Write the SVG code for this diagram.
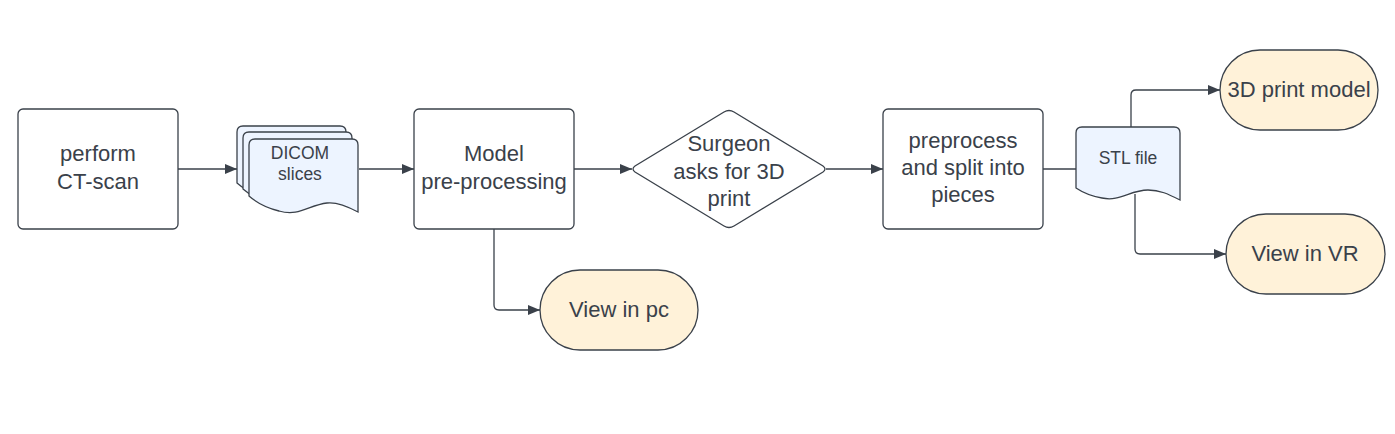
<svg xmlns="http://www.w3.org/2000/svg" width="1395" height="434" viewBox="0 0 1395 434">
<defs>
<style>
.box{fill:#ffffff;stroke:#3a414a;stroke-width:1.3}
.pill{fill:#fff2d9;stroke:#3a414a;stroke-width:1.3}
.doc{fill:#edf4ff;stroke:#3a414a;stroke-width:1.3}
.c{fill:none;stroke:#3a414a;stroke-width:1.3}
text{font-family:"Liberation Sans",Arial,sans-serif;fill:#3a414a;text-anchor:middle}
.t20{font-size:22px}
.t15{font-size:17.5px}
</style>
<marker id="ah" viewBox="0 0 12 10" refX="12" refY="5" markerWidth="12" markerHeight="10" markerUnits="userSpaceOnUse" orient="auto">
<path d="M0,0 L12,5 L0,10 Z" fill="#3a414a"/>
</marker>
<path id="docshape" d="M0,6 Q0,0 6,0 L103,0 Q109,0 109,6 L109,73 C96,66 86,63 78,64 C60,66 50,78 30,72 C18,69 8,64 0,57 Z"/>
</defs>
<rect width="1395" height="434" fill="#ffffff"/>
<g id="connectors">
<path class="c" d="M178,169 L237,169" marker-end="url(#ah)"/>
<path class="c" d="M359,169 L414,169" marker-end="url(#ah)"/>
<path class="c" d="M574,169 L632,169" marker-end="url(#ah)"/>
<path class="c" d="M826,169 L883,169" marker-end="url(#ah)"/>
<path class="c" d="M1043,169 L1076,169"/>
<path class="c" d="M494,229 L494,305 Q494,310 499,310 L540,310" marker-end="url(#ah)"/>
<path class="c" d="M1131,127 L1131,95 Q1131,90 1136,90 L1220,90" marker-end="url(#ah)"/>
<path class="c" d="M1135,194 L1135,249 Q1135,254 1140,254 L1226,254" marker-end="url(#ah)"/>
</g>
<g id="ctscan">
<rect class="box" x="18" y="109" width="160" height="120" rx="5"/>
<text class="t20" x="98" y="161">perform</text>
<text class="t20" x="98" y="189">CT-scan</text>
</g>
<g id="dicom">
<use href="#docshape" class="doc" x="237" y="126"/>
<use href="#docshape" class="doc" x="243" y="132"/>
<use href="#docshape" class="doc" x="249" y="139"/>
<text class="t15" x="300" y="159">DICOM</text>
<text class="t15" x="300" y="180">slices</text>
</g>
<g id="model">
<rect class="box" x="414" y="109" width="160" height="120" rx="5"/>
<text class="t20" x="494" y="161">Model</text>
<text class="t20" x="494" y="189">pre-processing</text>
</g>
<g id="surgeon">
<path class="box" d="M724,112 Q729,109 734,112 L823,166 Q827,169 823,172 L734,226 Q729,229 724,226 L635,172 Q631,169 635,166 Z"/>
<text class="t20" x="729" y="151">Surgeon</text>
<text class="t20" x="729" y="179">asks for 3D</text>
<text class="t20" x="729" y="206">print</text>
</g>
<g id="preprocess">
<rect class="box" x="883" y="109" width="160" height="120" rx="5"/>
<text class="t20" x="963" y="148">preprocess</text>
<text class="t20" x="963" y="175">and split into</text>
<text class="t20" x="963" y="202">pieces</text>
</g>
<g id="stl">
<path class="doc" d="M1076,133 Q1076,127 1082,127 L1174,127 Q1180,127 1180,133 L1180,200 C1168,194 1160,190 1148,190 C1130,190 1120,202 1102,198 C1090,196 1082,192 1076,188 Z"/>
<text class="t15" x="1128" y="164">STL file</text>
</g>
<g id="viewpc">
<rect class="pill" x="540" y="270" width="158" height="80" rx="40"/>
<text class="t20" x="619" y="317">View in pc</text>
</g>
<g id="print3d">
<rect class="pill" x="1220" y="50" width="158" height="80" rx="40"/>
<text class="t20" x="1299" y="97">3D print model</text>
</g>
<g id="viewvr">
<rect class="pill" x="1226" y="214" width="159" height="80" rx="40"/>
<text class="t20" x="1305" y="261">View in VR</text>
</g>
</svg>
